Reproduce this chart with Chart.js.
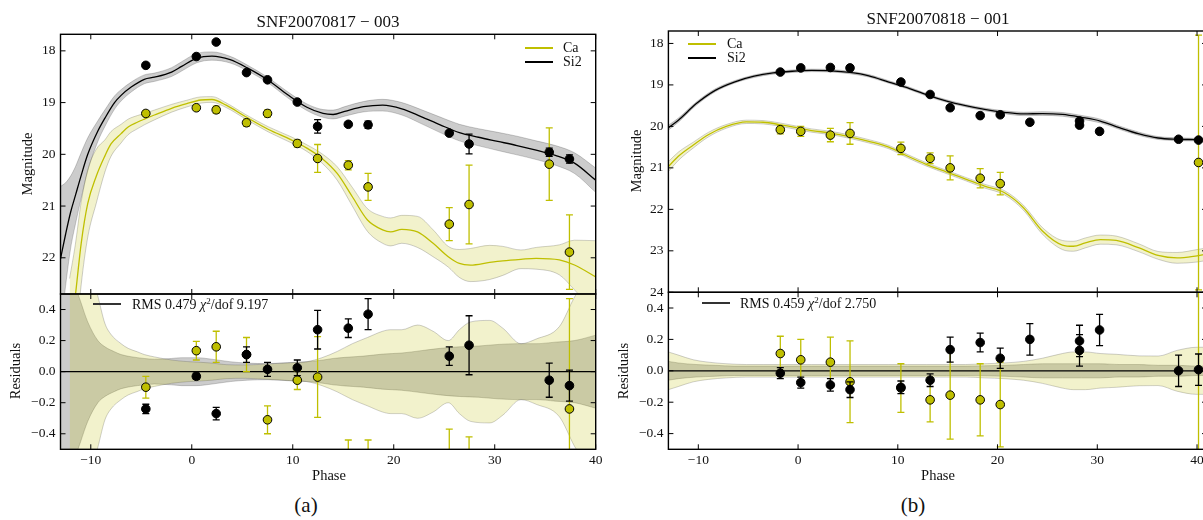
<!DOCTYPE html>
<html><head><meta charset="utf-8">
<script src="https://cdn.jsdelivr.net/npm/chart.js@4.4.1/dist/chart.umd.min.js"></script>
<style>
html,body{margin:0;padding:0;background:#fff;overflow:hidden;width:1203px;height:520px;}
#wrap{position:relative;width:1203px;height:520px;overflow:hidden;font-family:"Liberation Serif","DejaVu Serif",serif;color:#111;}
canvas{position:absolute;}
.t{position:absolute;white-space:nowrap;line-height:1;transform:translate(-50%,-50%);}
.l{position:absolute;white-space:nowrap;line-height:1;transform:translate(0,-50%);}
.r{position:absolute;white-space:nowrap;line-height:1;transform:translate(-50%,-50%) rotate(-90deg);}
.ln{position:absolute;height:1.6px;}
</style></head><body><div id="wrap">
<canvas id="cAt" width="620" height="310" style="left:0;top:0"></canvas>
<canvas id="cBt" width="620" height="310" style="left:600px;top:0"></canvas>
<canvas id="cAr" width="620" height="190" style="left:0;top:280px"></canvas>
<canvas id="cBr" width="620" height="190" style="left:600px;top:280px"></canvas>

<div class="t" style="left:328px;top:21px;font-size:17px">SNF20070817 − 003</div>
<div class="t" style="left:938px;top:18px;font-size:17px">SNF20070818 − 001</div>
<div class="r" style="left:27px;top:164px;font-size:14.5px">Magnitude</div>
<div class="r" style="left:15px;top:371px;font-size:14.5px">Residuals</div>
<div class="r" style="left:636px;top:161px;font-size:14.5px">Magnitude</div>
<div class="r" style="left:623px;top:371px;font-size:14.5px">Residuals</div>
<div class="t" style="left:329px;top:475px;font-size:14.5px">Phase</div>
<div class="t" style="left:938px;top:475px;font-size:14.5px">Phase</div>
<div class="t" style="left:306px;top:505px;font-size:21px">(a)</div>
<div class="t" style="left:913px;top:505px;font-size:21px">(b)</div>

<div class="ln" style="left:525px;top:47px;width:28px;background:#bfbf00"></div>
<div class="l" style="left:563px;top:48px;font-size:14px">Ca</div>
<div class="ln" style="left:525px;top:61px;width:28px;background:#000"></div>
<div class="l" style="left:563px;top:62px;font-size:14px">Si2</div>

<div class="ln" style="left:688px;top:43px;width:28px;background:#bfbf00"></div>
<div class="l" style="left:727px;top:44px;font-size:14px">Ca</div>
<div class="ln" style="left:688px;top:57px;width:28px;background:#000"></div>
<div class="l" style="left:727px;top:58px;font-size:14px">Si2</div>

<div class="ln" style="left:93px;top:303px;width:28px;background:#333"></div>
<div class="l" style="left:132px;top:304px;font-size:14px">RMS 0.479 <i>χ</i><sup style="font-size:9px;vertical-align:5px">2</sup>/dof 9.197</div>
<div class="ln" style="left:702px;top:302px;width:28px;background:#333"></div>
<div class="l" style="left:740px;top:303px;font-size:14px">RMS 0.459 <i>χ</i><sup style="font-size:9px;vertical-align:5px">2</sup>/dof 2.750</div>
</div>
<script>
// ---------- axes / ticks ----------
const xLimitsA = [-13, 40];
const xLimitsB = [-13, 41];
const xTicks = [-10, 0, 10, 20, 30, 40];
const xTickLabels = ['−10', '0', '10', '20', '30', '40'];
const magLimitsA = [17.68, 22.7];
const magLimitsB = [17.7, 24];
const magTicksA = [18, 19, 20, 21, 22];
const magTickLabelsA = ['18', '19', '20', '21', '22'];
const magTicksB = [18, 19, 20, 21, 22, 23, 24];
const magTickLabelsB = ['18', '19', '20', '21', '22', '23', '24'];
const resLimits = [-0.5, 0.5];
const resTicks = [0.4, 0.2, 0, -0.2, -0.4];
const resTickLabels = ['0.4', '0.2', '0.0', '−0.2', '−0.4'];

// ---------- panel (a) observations ----------
const obsPhaseA = [-4.55, 0.45, 2.42, 5.42, 7.5, 10.45, 12.46, 15.5, 17.46, 25.5, 27.46, 35.4, 37.4];
const siMagA = [18.28, 18.11, 17.83, 18.42, 18.56, 18.99, 19.46, 19.42, 19.43, 19.59, 19.80, 19.96, 20.09];
const siErrA = [0.03, 0.03, 0.03, 0.03, 0.03, 0.03, 0.13, 0.03, 0.07, 0.04, 0.19, 0.08, 0.08];
const caMagA = [19.21, 19.10, 19.14, 19.39, 19.21, 19.79, 20.08, 20.21, 20.63, 21.35, 20.97, 20.19, 21.89];
const caErrA = [0.05, 0.04, 0.07, 0.07, 0.07, 0.07, 0.27, 0.09, 0.26, 0.32, 0.76, 0.7, 0.72];
const siResA = [-0.24, -0.03, -0.27, 0.11, 0.015, 0.025, 0.27, 0.28, 0.37, 0.10, 0.17, -0.055, -0.09];
const siResErrA = [0.03, 0.02, 0.04, 0.05, 0.045, 0.05, 0.124, 0.06, 0.1, 0.06, 0.19, 0.11, 0.1];
const caResA = [-0.10, 0.135, 0.16, 0.11, -0.31, -0.055, -0.035, -0.53, -0.70, -0.69, -1.18, -1.84, -0.24];
const caResErrA = [0.07, 0.06, 0.1, 0.11, 0.09, 0.06, 0.26, 0.09, 0.26, 0.32, 0.76, 0.7, 0.71];

// ---------- panel (a) models ----------
const siModelPhaseA = [-13, -12.5, -12, -11.5, -11, -10.3, -9.3, -8.6, -7.65, -7, -6, -4.7, -3.7, -2, -1, 0.5, 2, 3.8, 5.5, 7.5, 9.5, 11.4, 13, 14, 15.15, 17, 18.9, 20.8, 22.7, 24.6, 26.5, 28.4, 30.3, 32.2, 34.1, 36, 37.9, 40];
const siModelMagA = [22.02, 21.55, 21.12, 20.78, 20.44, 20.0, 19.55, 19.3, 19.0, 18.86, 18.7, 18.55, 18.51, 18.41, 18.3, 18.14, 18.1, 18.17, 18.33, 18.56, 18.85, 19.09, 19.21, 19.23, 19.17, 19.08, 19.05, 19.12, 19.27, 19.43, 19.58, 19.67, 19.75, 19.83, 19.92, 20.02, 20.17, 20.5];
const siModelSigA = [1.4, 1.0, 0.7, 0.55, 0.45, 0.32, 0.2, 0.16, 0.128, 0.11, 0.096, 0.085, 0.08, 0.085, 0.09, 0.09, 0.08, 0.064, 0.055, 0.052, 0.058, 0.064, 0.075, 0.085, 0.092, 0.1, 0.113, 0.12, 0.135, 0.15, 0.16, 0.165, 0.175, 0.18, 0.18, 0.19, 0.2, 0.235];
const caModelPhaseA = [-12.1, -11.55, -10.95, -10.3, -9.45, -8.6, -8, -7, -6.3, -5.4, -4.7, -3.7, -2, -0.5, 0.9, 2, 3.4, 5.3, 7.6, 9.85, 11.4, 12.9, 14.4, 15.9, 17.4, 18.9, 19.7, 20.8, 22.35, 23.9, 25.4, 26.5, 27.6, 29.5, 30.8, 32.6, 34.1, 36.4, 37.9, 40];
const caModelMagA = [23.6, 22.77, 21.72, 20.95, 20.42, 20.03, 19.8, 19.6, 19.47, 19.38, 19.32, 19.24, 19.11, 19.02, 18.95, 18.94, 19.05, 19.27, 19.52, 19.72, 19.88, 20.08, 20.37, 20.82, 21.27, 21.46, 21.5, 21.45, 21.5, 21.72, 21.98, 22.11, 22.14, 22.09, 22.06, 22.03, 22.01, 22.04, 22.14, 22.37];
const caModelSigA = [1.2, 1.0, 0.8, 0.65, 0.52, 0.31, 0.24, 0.18, 0.15, 0.128, 0.11, 0.095, 0.075, 0.065, 0.06, 0.055, 0.045, 0.043, 0.05, 0.058, 0.064, 0.09, 0.13, 0.18, 0.22, 0.26, 0.27, 0.27, 0.3, 0.26, 0.2, 0.27, 0.32, 0.33, 0.28, 0.18, 0.21, 0.29, 0.48, 0.7];

// ---------- panel (b) observations ----------
const siObsPhaseB = [-1.78, 0.27, 3.24, 5.21, 10.31, 13.24, 15.25, 18.26, 20.27, 23.24, 28.22, 28.22, 30.23, 38.15, 40.15];
const siMagB = [18.69, 18.59, 18.58, 18.59, 18.93, 19.23, 19.55, 19.74, 19.72, 19.90, 19.97, 19.87, 20.12, 20.31, 20.33];
const siErrB = [0.03, 0.03, 0.03, 0.03, 0.03, 0.03, 0.03, 0.03, 0.03, 0.04, 0.04, 0.04, 0.04, 0.04, 0.04];
const siResB = [-0.015, -0.075, -0.09, -0.12, -0.105, -0.06, 0.135, 0.18, 0.08, 0.20, 0.19, 0.13, 0.26, 0.0, 0.007];
const siResErrB = [0.035, 0.035, 0.04, 0.05, 0.04, 0.04, 0.08, 0.06, 0.065, 0.1, 0.1, 0.1, 0.1, 0.1, 0.1];
const caObsPhaseB = [-1.78, 0.27, 3.24, 5.21, 10.31, 13.24, 15.25, 18.26, 20.27, 40.15];
const caMagB = [20.08, 20.12, 20.21, 20.17, 20.53, 20.77, 21.0, 21.25, 21.38, 20.87];
const caErrB = [0.1, 0.12, 0.16, 0.26, 0.15, 0.13, 0.29, 0.23, 0.27, 3.07];
const caResB = [0.11, 0.07, 0.055, -0.07, -0.11, -0.185, -0.155, -0.185, -0.215, -2.24];
const caResErrB = [0.11, 0.13, 0.16, 0.26, 0.155, 0.14, 0.28, 0.23, 0.27, 3.07];

// ---------- panel (b) models ----------
const siModelPhaseB = [-13, -12, -10.2, -8.3, -6.4, -4.4, -2.5, -0.6, 1.35, 3.3, 5.2, 7.1, 9.1, 11, 12.9, 14.9, 16.8, 18.7, 20.7, 22.6, 24.5, 26.5, 28.4, 30.3, 32.2, 34.2, 36.1, 38, 40, 41];
const siModelMagB = [20.03, 19.85, 19.45, 19.13, 18.93, 18.79, 18.71, 18.67, 18.65, 18.66, 18.70, 18.78, 18.93, 19.07, 19.24, 19.39, 19.50, 19.59, 19.66, 19.70, 19.69, 19.71, 19.78, 19.87, 20.03, 20.18, 20.28, 20.31, 20.32, 20.33];
const siModelSigB = [0.06, 0.05, 0.04, 0.035, 0.03, 0.03, 0.03, 0.03, 0.03, 0.03, 0.03, 0.03, 0.03, 0.03, 0.03, 0.03, 0.03, 0.032, 0.035, 0.04, 0.045, 0.045, 0.045, 0.045, 0.04, 0.04, 0.035, 0.035, 0.03, 0.03];
const caModelPhaseB = [-13, -12, -10.5, -9, -7.2, -5.2, -3.5, -2, 0, 1.35, 3.3, 5.2, 7.1, 9.1, 11, 12.9, 14.9, 16.8, 18.7, 20.7, 22.6, 24.5, 26.5, 27.6, 28.8, 30.3, 31.9, 34.2, 36.1, 38, 40, 41];
const caModelMagB = [20.97, 20.72, 20.45, 20.2, 20.0, 19.89, 19.9, 19.95, 20.04, 20.1, 20.16, 20.25, 20.36, 20.5, 20.72, 20.92, 21.1, 21.27, 21.44, 21.6, 21.96, 22.52, 22.86, 22.89, 22.81, 22.73, 22.75, 22.93, 23.11, 23.17, 23.12, 23.08];
const caModelSigB = [0.12, 0.1, 0.07, 0.055, 0.045, 0.04, 0.04, 0.04, 0.04, 0.04, 0.04, 0.04, 0.04, 0.04, 0.04, 0.04, 0.04, 0.04, 0.045, 0.05, 0.06, 0.08, 0.11, 0.12, 0.12, 0.11, 0.105, 0.095, 0.094, 0.13, 0.15, 0.15];

// ---------- styling ----------
const FONT = '"Liberation Serif", "DejaVu Serif", serif';
const YEL = '#bfbf00';
const YEL_FILL = 'rgba(191,191,0,0.2)';
const GRY_FILL = 'rgba(0,0,0,0.2)';
const EDGE = 'rgba(80,80,80,0.35)';

const zip = (xs, ys) => xs.map((x, i) => ({x, y: ys[i]}));

function band(xs, center, sig, fill, order) {
  const c = i => (Array.isArray(center) ? center[i] : center);
  return [
    {type: 'line', data: xs.map((x, i) => ({x, y: c(i) + sig[i]})), fill: '+1', backgroundColor: fill,
     borderColor: EDGE, borderWidth: 0.8, pointRadius: 0, cubicInterpolationMode: 'monotone', order, clip: 0},
    {type: 'line', data: xs.map((x, i) => ({x, y: c(i) - sig[i]})), fill: false,
     borderColor: EDGE, borderWidth: 0.8, pointRadius: 0, cubicInterpolationMode: 'monotone', order, clip: 0}
  ];
}
function model(xs, ys, color, order) {
  return {type: 'line', data: zip(xs, ys), borderColor: color, borderWidth: 1.3, pointRadius: 0, fill: false,
          cubicInterpolationMode: 'monotone', order, clip: 0};
}
function points(xs, ys, errs, fillColor, errColor, order) {
  return {type: 'scatter', data: zip(xs, ys), errs, errColor, pointRadius: 4.3, pointBackgroundColor: fillColor,
          pointBorderColor: '#000', pointBorderWidth: 1, order, clip: 0};
}
function zeroLine(lim) {
  return {type: 'line', data: lim.map(x => ({x, y: 0})), borderColor: '#000', borderWidth: 1.2, pointRadius: 0,
          fill: false, order: 5, clip: 0};
}

const errPlugin = {
  id: 'errbars',
  beforeDatasetDraw(chart, args) {
    const ds = chart.data.datasets[args.index];
    if (!ds.errs) return;
    const xs = chart.scales.x, ys = chart.scales.y, ca = chart.chartArea, ctx = chart.ctx;
    ctx.save();
    ctx.beginPath(); ctx.rect(ca.left, ca.top, ca.right - ca.left, ca.bottom - ca.top); ctx.clip();
    ctx.strokeStyle = ds.errColor; ctx.lineWidth = 1.3;
    ds.data.forEach((p, i) => {
      const e = ds.errs[i];
      const px = xs.getPixelForValue(p.x);
      const y1 = ys.getPixelForValue(p.y - e), y2 = ys.getPixelForValue(p.y + e);
      ctx.beginPath();
      ctx.moveTo(px, y1); ctx.lineTo(px, y2);
      ctx.moveTo(px - 3.5, y1); ctx.lineTo(px + 3.5, y1);
      ctx.moveTo(px - 3.5, y2); ctx.lineTo(px + 3.5, y2);
      ctx.stroke();
    });
    ctx.restore();
  }
};
const framePlugin = {
  id: 'frame',
  afterDraw(chart, args, opts) {
    const {ctx, chartArea: ca} = chart;
    const xs = chart.scales.x, ys = chart.scales.y;
    const L = 5;
    ctx.save();
    ctx.strokeStyle = '#000'; ctx.lineWidth = 1;
    ctx.beginPath();
    opts.xTicks.forEach(v => {
      const p = xs.getPixelForValue(v);
      if (p < ca.left - 0.5 || p > ca.right + 0.5) return;
      ctx.moveTo(p, ca.bottom); ctx.lineTo(p, ca.bottom - L);
      ctx.moveTo(p, ca.top); ctx.lineTo(p, ca.top + L);
    });
    opts.yTicks.forEach(v => {
      const p = ys.getPixelForValue(v);
      if (p < ca.top - 0.5 || p > ca.bottom + 0.5) return;
      ctx.moveTo(ca.left, p); ctx.lineTo(ca.left + L, p);
      ctx.moveTo(ca.right, p); ctx.lineTo(ca.right - L, p);
    });
    ctx.stroke();
    ctx.lineWidth = 1.4;
    ctx.strokeRect(ca.left, ca.top, ca.right - ca.left, ca.bottom - ca.top);
    ctx.restore();
  }
};

function zeroPad(s) { s.paddingLeft = 0; s.paddingRight = 0; s.paddingTop = 0; s.paddingBottom = 0; }

function makeChart(id, cfg) {
  const xScale = {
    type: 'linear', position: 'bottom', min: cfg.xLim[0], max: cfg.xLim[1], bounds: 'data',
    grid: {display: false, drawTicks: false}, border: {display: false},
    ticks: {display: cfg.showX, font: {family: FONT, size: 13.5}, color: '#111', padding: 3,
            maxRotation: 0, autoSkip: false, callback: (v, i) => xTickLabels[i]},
    afterBuildTicks: s => { s.ticks = xTicks.map(v => ({value: v})); },
    afterFit: s => { s.height = cfg.showX ? 20.7 : 0; zeroPad(s); }
  };
  const yScale = {
    type: 'linear', position: 'left', min: cfg.yLim[0], max: cfg.yLim[1], reverse: cfg.reverse, bounds: 'data',
    grid: {display: false, drawTicks: false}, border: {display: false},
    ticks: {font: {family: FONT, size: 13.5}, color: '#111', padding: 5, autoSkip: false,
            callback: (v, i) => cfg.yLabels[i]},
    afterBuildTicks: s => { s.ticks = cfg.yTicks.map(v => ({value: v})); },
    afterFit: s => { s.width = cfg.yWidth; zeroPad(s); }
  };
  return new Chart(document.getElementById(id), {
    type: 'line',
    data: {datasets: cfg.datasets},
    options: {
      responsive: false, animation: false, events: [],
      layout: {padding: cfg.pad},
      scales: {x: xScale, y: yScale},
      plugins: {legend: {display: false}, tooltip: {enabled: false},
                frame: {xTicks, yTicks: cfg.yTicks}}
    },
    plugins: [errPlugin, framePlugin]
  });
}

// ---- panel (a) top ----
makeChart('cAt', {
  xLim: xLimitsA, yLim: magLimitsA, reverse: true, showX: false,
  yTicks: magTicksA, yLabels: magTickLabelsA, yWidth: 60.5,
  pad: {left: 0, top: 34.3, right: 24.3, bottom: 16},
  datasets: [
    ...band(siModelPhaseA, siModelMagA, siModelSigA, GRY_FILL, 20),
    ...band(caModelPhaseA, caModelMagA, caModelSigA, YEL_FILL, 19),
    model(caModelPhaseA, caModelMagA, YEL, 12),
    model(siModelPhaseA, siModelMagA, '#000', 11),
    points(obsPhaseA, caMagA, caErrA, YEL, YEL, 2),
    points(obsPhaseA, siMagA, siErrA, '#000', '#000', 1)
  ]
});
// ---- panel (a) residuals ----
makeChart('cAr', {
  xLim: xLimitsA, yLim: resLimits, reverse: false, showX: true,
  yTicks: resTicks, yLabels: resTickLabels, yWidth: 60.5,
  pad: {left: 0, top: 14, right: 24.3, bottom: 0},
  datasets: [
    ...band(siModelPhaseA, 0, siModelSigA, GRY_FILL, 20),
    ...band(caModelPhaseA, 0, caModelSigA, YEL_FILL, 19),
    zeroLine(xLimitsA),
    points(obsPhaseA, caResA, caResErrA, YEL, YEL, 2),
    points(obsPhaseA, siResA, siResErrA, '#000', '#000', 1)
  ]
});
// ---- panel (b) top ----
makeChart('cBt', {
  xLim: xLimitsB, yLim: magLimitsB, reverse: true, showX: false,
  yTicks: magTicksB, yLabels: magTickLabelsB, yWidth: 68.4,
  pad: {left: 0, top: 31, right: 13, bottom: 17.7},
  datasets: [
    ...band(siModelPhaseB, siModelMagB, siModelSigB, GRY_FILL, 20),
    ...band(caModelPhaseB, caModelMagB, caModelSigB, YEL_FILL, 19),
    model(caModelPhaseB, caModelMagB, YEL, 12),
    model(siModelPhaseB, siModelMagB, '#000', 11),
    points(caObsPhaseB, caMagB, caErrB, YEL, YEL, 2),
    points(siObsPhaseB, siMagB, siErrB, '#000', '#000', 1)
  ]
});
// ---- panel (b) residuals ----
makeChart('cBr', {
  xLim: xLimitsB, yLim: resLimits, reverse: false, showX: true,
  yTicks: resTicks, yLabels: resTickLabels, yWidth: 68.4,
  pad: {left: 0, top: 12.3, right: 13, bottom: 0},
  datasets: [
    ...band(siModelPhaseB, 0, siModelSigB, GRY_FILL, 20),
    ...band(caModelPhaseB, 0, caModelSigB, YEL_FILL, 19),
    zeroLine(xLimitsB),
    points(caObsPhaseB, caResB, caResErrB, YEL, YEL, 2),
    points(siObsPhaseB, siResB, siResErrB, '#000', '#000', 1)
  ]
});
</script>
</body></html>
